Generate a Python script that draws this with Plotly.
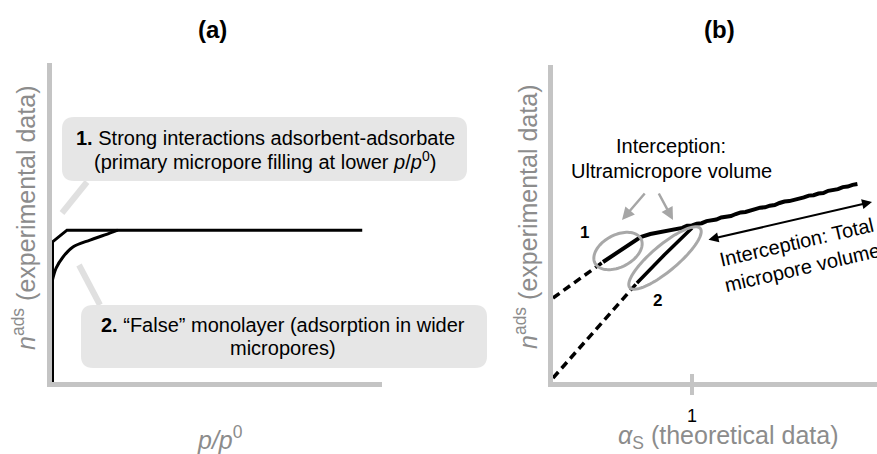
import numpy as np
import plotly.graph_objects as go

W, H = 877, 454

# ---- panel (a): schematic isotherms, n_ads against p/p0 ----
iso1_p = [0.0, 0.0, 0.044, 0.94]
iso1_n = [0.0, 0.439, 0.476, 0.476]
iso2_p = [0.0, 0.011, 0.032, 0.062, 0.114, 0.159, 0.198]
iso2_n = [0.32, 0.357, 0.392, 0.423, 0.445, 0.461, 0.476]

# ---- panel (b): alpha_S plots ----
as1_ext_x = [0.0, 0.36]
as1_ext_y = [0.84, 1.20]
as1_x = [0.36, 0.42, 0.50, 0.57, 0.63, 0.70, 0.78,
         0.86, 0.895, 0.93, 0.965, 1.00, 1.035, 1.07, 1.105, 1.14, 1.175,
         1.21, 1.245, 1.28, 1.315, 1.35, 1.385, 1.42, 1.455, 1.49, 1.525,
         1.56, 1.595, 1.63, 1.665, 1.70, 1.735, 1.77, 1.805, 1.84, 1.875,
         1.91, 1.945, 1.98, 2.015, 2.05, 2.085, 2.12, 2.155, 2.19]
as1_y = [1.20, 1.255, 1.33, 1.395, 1.45, 1.48, 1.50,
         1.520, 1.536, 1.541, 1.562, 1.566, 1.582, 1.588, 1.609, 1.619, 1.625,
         1.646, 1.652, 1.659, 1.680, 1.696, 1.700, 1.710, 1.728, 1.743, 1.747,
         1.763, 1.769, 1.790, 1.805, 1.809, 1.819, 1.838, 1.846, 1.864, 1.868,
         1.885, 1.889, 1.912, 1.921, 1.929, 1.949, 1.954, 1.971, 1.980]
as2_ext_x = [0.0, 0.604]
as2_ext_y = [0.04, 0.99]
as2_x = [0.604, 0.80, 1.0]
as2_y = [0.99, 1.27, 1.54]
b_tickvals = [1]
b_ticktext = ["1"]

FONT = "Liberation Sans, Arial, Helvetica, sans-serif"
AXIS_GREY = "#c4c4c4"
LABEL_GREY = "#8c8c8c"
BOX_FILL = "#e6e6e6"
POINTER = "#e0e0e0"
RING = "#a8a8a8"


def X(px):
    return px / W


def Y(py):
    return 1 - py / H


def rounded_box(x0, y0, x1, y1, r):
    return (f"M {X(x0 + r)},{Y(y0)} L {X(x1 - r)},{Y(y0)} "
            f"Q {X(x1)},{Y(y0)} {X(x1)},{Y(y0 + r)} L {X(x1)},{Y(y1 - r)} "
            f"Q {X(x1)},{Y(y1)} {X(x1 - r)},{Y(y1)} L {X(x0 + r)},{Y(y1)} "
            f"Q {X(x0)},{Y(y1)} {X(x0)},{Y(y1 - r)} L {X(x0)},{Y(y0 + r)} "
            f"Q {X(x0)},{Y(y0)} {X(x0 + r)},{Y(y0)} Z")


def ellipse(cx, cy, a, b, deg, n=90):
    th = np.radians(deg)
    t = np.linspace(0, 2 * np.pi, n, endpoint=False)
    ex = cx + a * np.cos(t) * np.cos(th) - b * np.sin(t) * np.sin(th)
    ey = cy - (a * np.cos(t) * np.sin(th) + b * np.sin(t) * np.cos(th))
    pts = [f"{X(u)},{Y(v)}" for u, v in zip(ex, ey)]
    return "M " + " L ".join(pts) + " Z"


fig = go.Figure()

fig.add_trace(go.Scatter(x=iso1_p, y=iso1_n, mode="lines",
                         line=dict(color="black", width=3),
                         xaxis="x", yaxis="y", hoverinfo="skip"))
fig.add_trace(go.Scatter(x=iso2_p, y=iso2_n, mode="lines",
                         line=dict(color="black", width=3, shape="spline"),
                         xaxis="x", yaxis="y", hoverinfo="skip"))

dash = dict(color="black", width=3.5, dash="8px,5px")
fig.add_trace(go.Scatter(x=as1_ext_x, y=as1_ext_y, mode="lines", line=dash,
                         xaxis="x2", yaxis="y2", hoverinfo="skip"))
fig.add_trace(go.Scatter(x=as2_ext_x, y=as2_ext_y, mode="lines", line=dash,
                         xaxis="x2", yaxis="y2", hoverinfo="skip"))
fig.add_trace(go.Scatter(x=as1_x, y=as1_y, mode="lines",
                         line=dict(color="black", width=4),
                         xaxis="x2", yaxis="y2", hoverinfo="skip"))
fig.add_trace(go.Scatter(x=as2_x, y=as2_y, mode="lines",
                         line=dict(color="black", width=3.5),
                         xaxis="x2", yaxis="y2", hoverinfo="skip"))

axis_common = dict(showgrid=False, zeroline=False, showline=True,
                   linecolor=AXIS_GREY, linewidth=5, fixedrange=True)

shapes = [
    # callout pointers and boxes, panel (a)
    dict(type="line", xref="paper", yref="paper", x0=X(87), y0=Y(182),
         x1=X(62), y1=Y(213), line=dict(color=POINTER, width=6), layer="below"),
    dict(type="line", xref="paper", yref="paper", x0=X(79), y0=Y(265),
         x1=X(100), y1=Y(305), line=dict(color=POINTER, width=6), layer="below"),
    dict(type="path", xref="paper", yref="paper",
         path=rounded_box(62, 117, 467, 181, 12), fillcolor=BOX_FILL,
         line=dict(width=0), layer="below"),
    dict(type="path", xref="paper", yref="paper",
         path=rounded_box(81, 305, 487, 368, 12), fillcolor=BOX_FILL,
         line=dict(width=0), layer="below"),
    # rings marking the linear regions, panel (b)
    dict(type="path", xref="paper", yref="paper",
         path=ellipse(618, 251, 26, 16, 28), line=dict(color=RING, width=3)),
    dict(type="path", xref="paper", yref="paper",
         path=ellipse(665, 258, 46, 13, 40), line=dict(color=RING, width=3)),
    # upper half of the alpha_S = 1 tick
    dict(type="line", xref="x2", yref="paper", x0=1, x1=1, y0=Y(382),
         y1=Y(374), line=dict(color=AXIS_GREY, width=4)),
]


def txt(text, x, y, size, color="black", angle=0, **kw):
    return dict(text=text, x=X(x), y=Y(y), xref="paper", yref="paper",
                showarrow=False, xanchor="center", yanchor="middle",
                textangle=angle, font=dict(family=FONT, size=size, color=color),
                **kw)


annotations = [
    txt("<b>(a)</b>", 212, 30, 24),
    txt("<b>(b)</b>", 719, 30, 24),
    txt("<b>1.</b> Strong interactions adsorbent-adsorbate", 265, 138, 20),
    txt("(primary micropore filling at lower <i>p</i>/<i>p</i><sup>0</sup>)",
        265, 160, 20),
    txt("<b>2.</b> \u201cFalse\u201d monolayer (adsorption in wider", 283, 325, 20),
    txt("micropores)", 283, 348, 20),
    txt("<i>n</i><sup>ads</sup> (experimental data)", 24, 218, 25,
        LABEL_GREY, -90),
    txt("<i>n</i><sup>ads</sup> (experimental data)", 526, 217, 25,
        LABEL_GREY, -90),
    txt("<i>p/p</i><sup>0</sup>", 220, 438, 25, LABEL_GREY),
    txt("<i>\u03b1</i><sub>S</sub> (theoretical data)", 728, 437, 25, LABEL_GREY),
    txt("Interception:", 671, 146, 20),
    txt("Ultramicropore volume", 671, 171, 20),
    txt("<b>1</b>", 584, 232, 17),
    txt("<b>2</b>", 657, 300, 17),
    txt("Interception: Total<br>micropore volume", 799, 255, 20, angle=-13),
]

# arrows from the ultramicropore label to the two rings
for (tx, ty), (hx, hy) in [((646, 192), (622, 220)), ((658, 192), (673, 220))]:
    annotations.append(dict(
        x=X(hx), y=Y(hy), xref="paper", yref="paper", ax=tx - hx, ay=ty - hy,
        axref="pixel", ayref="pixel", text="", showarrow=True,
        arrowhead=2, arrowsize=1, arrowwidth=2.5, arrowcolor="#a6a6a6",
        standoff=0, startstandoff=0))

# double-headed arrow spanning the total micropore intercept
annotations.append(dict(
    x=X(872), y=Y(202), xref="paper", yref="paper", ax=707 - 872, ay=240 - 202,
    axref="pixel", ayref="pixel", text="", showarrow=True,
    arrowhead=2, startarrowhead=2, arrowside="end+start", arrowsize=1,
    startarrowsize=1, arrowwidth=2, arrowcolor="black",
    standoff=0, startstandoff=0))

fig.update_layout(
    width=W, height=H, autosize=False,
    margin=dict(l=0, r=0, t=0, b=0),
    paper_bgcolor="white", plot_bgcolor="white",
    showlegend=False,
    font=dict(family=FONT),
    xaxis=dict(domain=[X(51.5), X(382)], range=[-0.003, 1.0], showticklabels=False,
               ticks="", **axis_common),
    yaxis=dict(domain=[Y(382), Y(63)], range=[0, 1], showticklabels=False,
               ticks="", **axis_common),
    xaxis2=dict(domain=[X(553), 1.0], range=[0, 324 / 139], tickvals=b_tickvals,
                ticktext=b_ticktext, ticks="outside", ticklen=8, tickwidth=4,
                tickcolor=AXIS_GREY, ticklabelstandoff=5,
                tickfont=dict(family=FONT, size=18, color="black"),
                anchor="y2", **axis_common),
    yaxis2=dict(domain=[Y(382), Y(65)], range=[0, 3.17], showticklabels=False,
                ticks="", anchor="x2", **axis_common),
    shapes=shapes,
    annotations=annotations,
)

fig.write_html("out.html")
